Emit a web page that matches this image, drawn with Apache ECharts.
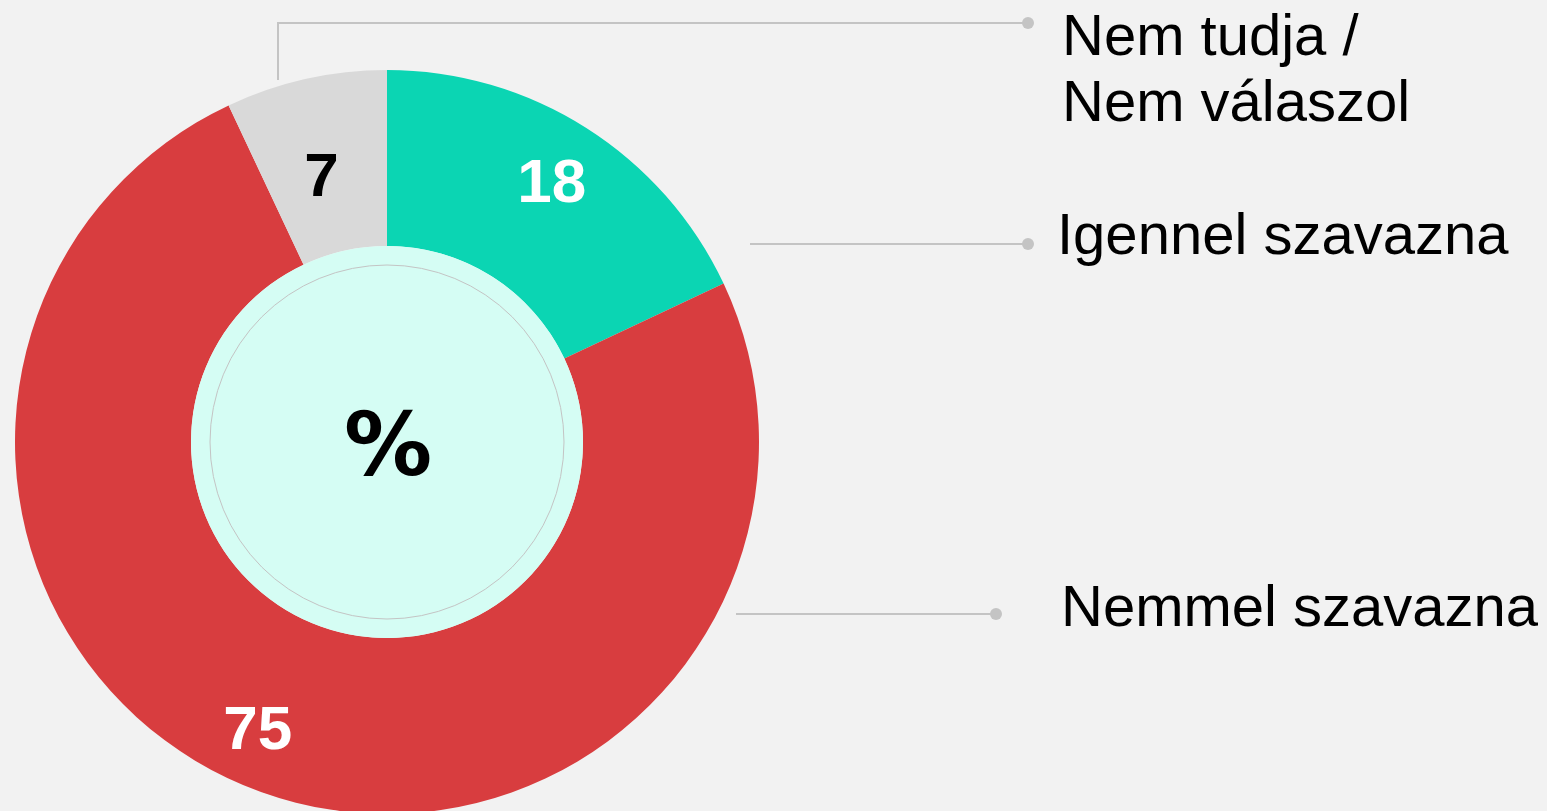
<!DOCTYPE html>
<html>
<head>
<meta charset="utf-8">
<style>
  html, body { margin: 0; padding: 0; background: #f2f2f2; }
  #chart-container { width: 1547px; height: 811px; }
</style>
<script src="https://cdn.jsdelivr.net/npm/echarts@6/dist/echarts.min.js"></script>
</head>
<body>
<div id="chart-container"></div>
<script>
var dom = document.getElementById('chart-container');
var myChart = echarts.init(dom, null, { renderer: 'canvas' });

// data
var categories = ['Igennel szavazna', 'Nemmel szavazna', 'Nem tudja /\nNem válaszol'];
var values = [18, 75, 7];
var colors = ['#0bd5b3', '#d83d3f', '#d9d9d9'];
var labelColors = ['#ffffff', '#ffffff', '#000000'];
var labelOffsets = [[11, -15], [-32, 20], [-3, 17]];

var font = 'Liberation Sans, Arial, sans-serif';
var cx = 387, cy = 442;

// leader lines: points of each polyline, last point gets the dot; text anchor
var leaders = [
  { pts: [[750, 244], [1028, 244]], text: [1057, 238] },
  { pts: [[736, 614], [996, 614]], text: [1061, 610] },
  { pts: [[278, 80], [278, 23], [1028, 23]], text: [1062, 72] }
];

var graphics = [];
graphics.push({
  type: 'circle',
  shape: { cx: cx, cy: cy, r: 177 },
  style: { fill: null, stroke: '#c4c4c4', lineWidth: 1 },
  z: 10
});
leaders.forEach(function (l, i) {
  graphics.push({
    type: 'polyline',
    shape: { points: l.pts },
    style: { stroke: '#c4c4c4', lineWidth: 2, fill: null }
  });
  var end = l.pts[l.pts.length - 1];
  graphics.push({
    type: 'circle',
    shape: { cx: end[0], cy: end[1], r: 6 },
    style: { fill: '#c4c4c4' }
  });
  graphics.push({
    type: 'text',
    x: l.text[0],
    y: l.text[1],
    style: {
      text: categories[i],
      font: '58px ' + font,
      fill: '#000',
      verticalAlign: 'middle',
      lineHeight: 66
    }
  });
});

var pieData = values.map(function (v, i) {
  return {
    name: categories[i],
    value: v,
    itemStyle: { color: colors[i] },
    label: { color: labelColors[i], offset: labelOffsets[i] }
  };
});

var option = {
  backgroundColor: '#f2f2f2',
  animation: false,
  series: [
    {
      type: 'pie',
      center: [cx, cy],
      radius: [196, 372],
      startAngle: 90,
      clockwise: true,
      silent: true,
      data: pieData,
      label: {
        show: true,
        position: 'inside',
        formatter: '{c}',
        fontFamily: font,
        fontWeight: 'bold',
        fontSize: 62
      },
      labelLine: { show: false }
    },
    {
      type: 'pie',
      center: [cx, cy],
      radius: [0, 196],
      silent: true,
      data: [{ value: 1, name: '%', itemStyle: { color: '#d5fdf4' } }],
      label: {
        show: true,
        position: 'center',
        formatter: '%',
        fontFamily: 'DejaVu Sans, sans-serif',
        fontWeight: 'bold',
        fontSize: 88,
        color: '#000',
        offset: [1, 10]
      },
      labelLine: { show: false }
    }
  ],
  graphic: graphics
};

myChart.setOption(option);
window.addEventListener('resize', myChart.resize);
</script>
</body>
</html>
